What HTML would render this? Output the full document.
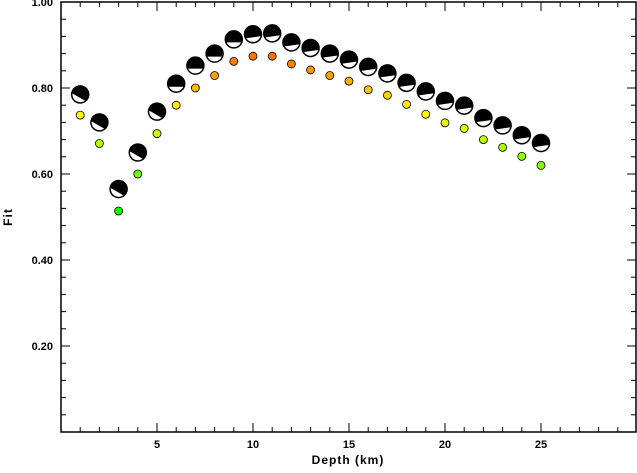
<!DOCTYPE html>
<html><head><meta charset="utf-8"><style>
body{margin:0;background:#fff}
svg text{font-family:"Liberation Sans",sans-serif;font-weight:bold;font-size:11px;fill:#000}
</style></head><body>
<svg width="637" height="468">
<g id="axes"></g>
<g id="marks"></g>
<text x="348" y="464" text-anchor="middle" style="font-size:12px;letter-spacing:1px">Depth (km)</text>
<text transform="translate(12,217) rotate(-90)" text-anchor="middle" style="font-size:12px;letter-spacing:1px">Fit</text>
</svg>
<script>
const depths=[1,2,3,4,5,6,7,8,9,10,11,12,13,14,15,16,17,18,19,20,21,22,23,24,25];
const mechFit=[0.785,0.72,0.565,0.65,0.745,0.81,0.852,0.88,0.913,0.925,0.927,0.906,0.893,0.88,0.866,0.849,0.834,0.812,0.792,0.77,0.759,0.73,0.713,0.69,0.672];
const dotFit=[0.737,0.671,0.514,0.60,0.694,0.76,0.80,0.829,0.862,0.874,0.874,0.856,0.842,0.829,0.816,0.796,0.783,0.762,0.739,0.719,0.706,0.68,0.662,0.641,0.62];
const xTicks=[5,10,15,20,25];
const yTicks=[0.2,0.4,0.6,0.8,1.0];
const NS='http://www.w3.org/2000/svg';
const L=61,R=636,T=2,B=432;
const xs=d=>L+d*19.2;
const ys=v=>B-v*430;
function mk(t,a,p){const e=document.createElementNS(NS,t);for(const k in a)e.setAttribute(k,a[k]);p.appendChild(e);return e;}
const ax=document.getElementById('axes');
const frame=mk('rect',{x:L,y:T,width:R-L,height:B-T,fill:'none',stroke:'#000','stroke-width':1.5},ax);


for(let d=1;d<30;d++){const len=d%5===0?9:5;
mk('line',{x1:xs(d),x2:xs(d),y1:B,y2:B-len,stroke:'#000','stroke-width':1},ax);
mk('line',{x1:xs(d),x2:xs(d),y1:T,y2:T+len,stroke:'#000','stroke-width':1},ax);}
for(let i=1;i<25;i++){const v=i*0.04;const len=i%5===0?9:5;
mk('line',{x1:L,x2:L+len,y1:ys(v),y2:ys(v),stroke:'#000'},ax);
mk('line',{x1:R,x2:R-len,y1:ys(v),y2:ys(v),stroke:'#000'},ax);}
xTicks.forEach(t=>{const e=mk('text',{x:xs(t),y:B+16,'text-anchor':'middle'},ax);e.textContent=t;

});
yTicks.forEach(t=>{const e=mk('text',{x:L-8,y:ys(t)+4,'text-anchor':'end'},ax);e.textContent=t.toFixed(2);

});
const mg=document.getElementById('marks');
function col(v){const t=Math.max(0,Math.min(1,(v-0.5)/0.38));
const h=120-t*95;return `hsl(${h},100%,50%)`;}
depths.forEach((d,i)=>{
const cx=xs(d),cy=ys(dotFit[i]);
const c=mk('circle',{cx,cy,r:4,fill:col(dotFit[i]),stroke:'#000','stroke-width':0.8},mg);


const bx=xs(d),by=ys(mechFit[i]);
const g=mk('g',{transform:`translate(${bx},${by}) rotate(${i<5?30:(i<9?0:-8)})`},mg);


mk('circle',{cx:0,cy:0,r:8.5,fill:'#fff',stroke:'#000','stroke-width':1.5},g);
mk('path',{d:'M-7.9,3 A8.5,8.5 0 1 1 7.9,3 Z',fill:'#000'},g);
});
</script>
</body></html>
